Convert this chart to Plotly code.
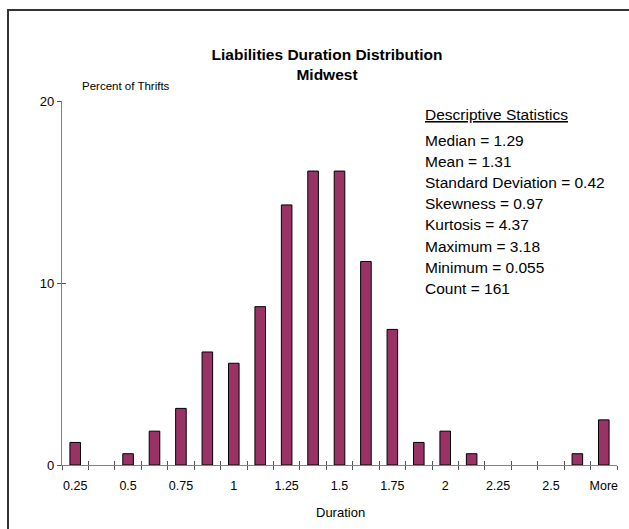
import plotly.graph_objects as go

# ---- data ----
bins = ["0.25", "0.375", "0.5", "0.625", "0.75", "0.875", "1", "1.125",
        "1.25", "1.375", "1.5", "1.625", "1.75", "1.875", "2", "2.125",
        "2.25", "2.375", "2.5", "2.625", "More"]
percent = [1.24, 0, 0.62, 1.86, 3.11, 6.21, 5.59, 8.70,
           14.29, 16.15, 16.15, 11.18, 7.45, 1.24, 1.86, 0.62,
           0, 0, 0, 0.62, 2.48]
tick_labels = bins[::2]
y_ticks = [0, 10, 20]
stat_names = ["Median", "Mean", "Standard Deviation", "Skewness",
              "Kurtosis", "Maximum", "Minimum", "Count"]
stat_values = ["1.29", "1.31", "0.42", "0.97", "4.37", "3.18", "0.055", "161"]

FONT = "Liberation Sans, Arial, sans-serif"
W, H = 629, 529
ML, MR, MT, MB = 62, 12, 101, 64
pw, ph = W - ML - MR, H - MT - MB
YMAX = 20

def px(x):
    return (x - ML) / pw

def py(y):
    return (H - MB - y) / ph

n = len(bins)
boundaries = [i - 0.5 for i in range(n + 1)]

fig = go.Figure()
fig.add_trace(go.Bar(
    x=bins, y=percent,
    marker=dict(color="#993366",
                line=dict(color="#000000",
                          width=[1 if v > 0 else 0 for v in percent])),
    showlegend=False, hoverinfo="x+y",
))

axis_col = "#808080"
tick_col = "#555555"

fig.update_layout(
    width=W, height=H,
    margin=dict(l=ML, r=MR, t=MT, b=MB, autoexpand=False),
    paper_bgcolor="white", plot_bgcolor="white",
    bargap=0.6,
    font=dict(family=FONT, color="black"),
    title=dict(
        text="<b>Liabilities Duration Distribution<br>Midwest</b>",
        x=327 / W, xanchor="center", xref="container",
        y=1 - 60 / H, yanchor="middle", yref="container",
        font=dict(family=FONT, size=15.5, color="black"),
    ),
    xaxis=dict(
        type="category", range=[-0.5, n - 0.5],
        tickmode="array", tickvals=tick_labels, ticktext=tick_labels,
        ticks="outside", ticklen=9, tickcolor="rgba(0,0,0,0)",
        tickfont=dict(family=FONT, size=12.5, color="black"),
        showline=True, linecolor=axis_col, linewidth=1.3,
        showgrid=False, zeroline=False, fixedrange=True,
    ),
    xaxis2=dict(
        overlaying="x", anchor="y", type="linear", range=[-0.5, n - 0.5],
        tickmode="array", tickvals=boundaries, showticklabels=False,
        ticks="outside", ticklen=4, tickcolor=tick_col, tickwidth=1.2,
        showline=False, showgrid=False, zeroline=False,
    ),
    xaxis3=dict(
        overlaying="x", anchor="y", type="linear", range=[-0.5, n - 0.5],
        tickmode="array", tickvals=boundaries, showticklabels=False,
        ticks="inside", ticklen=4, tickcolor=tick_col, tickwidth=1.2,
        showline=False, showgrid=False, zeroline=False,
    ),
    yaxis=dict(
        range=[0, YMAX], tickmode="array", tickvals=y_ticks,
        ticks="outside", ticklen=4, tickcolor=tick_col, tickwidth=1.2,
        tickfont=dict(family=FONT, size=13, color="black"),
        showline=True, linecolor=axis_col, linewidth=1.3,
        showgrid=False, zeroline=False, fixedrange=True,
    ),
    yaxis2=dict(
        overlaying="y", anchor="x", range=[0, YMAX], tickmode="array",
        tickvals=y_ticks, showticklabels=False,
        ticks="inside", ticklen=4, tickcolor=tick_col, tickwidth=1.2,
        showline=False, showgrid=False, zeroline=False,
    ),
)

# dummy invisible traces so overlay axes render
fig.add_trace(go.Scatter(x=[None], y=[None], xaxis="x2", yaxis="y", showlegend=False, hoverinfo="skip"))
fig.add_trace(go.Scatter(x=[None], y=[None], xaxis="x3", yaxis="y2", showlegend=False, hoverinfo="skip"))

# outer frame (only left and top edges visible in the window)
frame = dict(color="#333333", width=2)
fig.add_shape(type="line", xref="paper", yref="paper",
              x0=px(8), x1=px(8), y0=py(9), y1=py(H),
              line=frame, layer="above")
fig.add_shape(type="line", xref="paper", yref="paper",
              x0=px(7), x1=px(W), y0=py(10), y1=py(10),
              line=frame, layer="above")

annotations = [
    # frame box drawn as an empty annotation border (left/top edges visible)
    dict(text=" ", x=px(7), y=py(9), xanchor="left", yanchor="top",
         width=W + 20, height=H + 20, borderwidth=2, borderpad=0,
         bordercolor="#333333", align="left", font=dict(size=10)),
    dict(text="Percent of Thrifts", x=px(80), y=py(86), xanchor="left",
         yanchor="middle", font=dict(size=11.5)),
    dict(text="Duration", x=px(340), y=py(512), xanchor="center",
         yanchor="middle", font=dict(size=13)),
    dict(text="<u>Descriptive Statistics</u>", x=px(423), y=py(114),
         xanchor="left", yanchor="middle", font=dict(size=15.5)),
]
for i, (name, val) in enumerate(zip(stat_names, stat_values)):
    annotations.append(dict(
        text=f"{name} = {val}", x=px(423), y=py(140 + 21.2 * i),
        xanchor="left", yanchor="middle", font=dict(size=15.5)))

for a in annotations:
    a.update(xref="paper", yref="paper", showarrow=False)
    a["font"].update(family=FONT, color="black")
fig.update_layout(annotations=annotations)

fig.write_html(
    "out.html",
    config={"displayModeBar": False},
    post_script="document.body.style.margin='0';document.body.style.overflow='hidden';",
)
